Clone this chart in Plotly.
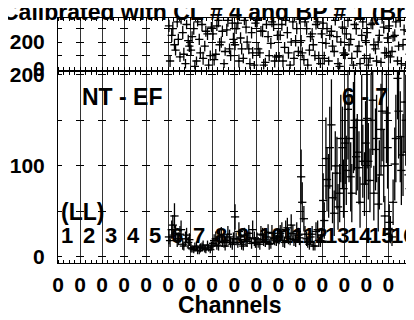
import plotly.graph_objects as go

W, H = 414, 320
CH_PER_MOD = 8

# ---------------- data ----------------
module_labels = [str(k) for k in range(1, 17)]
tick_labels = ["0"] * 16

# bottom panel (NT - EF), modules 6..16, 8 channels each, two readings per channel
bottom_vals_a = [
    22, 30, 45, 18, 25, 14, 20, 16,
    10, 8, 12, 7, 11, 9, 13, 8,
    15, 20, 12, 24, 16, 18, 22, 14,
    44, 16, 22, 12, 19, 26, 15, 20,
    20, 14, 24, 17, 27, 15, 21, 18,
    22, 28, 16, 32, 20, 26, 18, 24,
    88, 42, 20, 14, 25, 12, 30, 18,
    62, 108, 78, 145, 48, 92, 70, 120,
    125, 162, 88, 142, 110, 98, 150, 80,
    152, 84, 172, 118, 58, 140, 100, 158,
    38, 22, 102, 196, 132, 112, 150, 90,
]
bottom_err_a = [
    8, 10, 14, 7, 9, 6, 8, 6,
    5, 4, 5, 4, 5, 4, 5, 4,
    6, 8, 5, 9, 6, 7, 8, 6,
    14, 6, 8, 5, 7, 9, 6, 8,
    7, 6, 8, 6, 9, 6, 7, 6,
    8, 10, 6, 11, 7, 9, 7, 8,
    30, 14, 8, 6, 9, 5, 10, 7,
    30, 45, 35, 50, 25, 40, 32, 45,
    45, 55, 38, 50, 42, 40, 50, 35,
    55, 35, 60, 45, 30, 50, 40, 55,
    20, 10, 40, 45, 50, 45, 50, 38,
]
bottom_vals_b = [
    18, 35, 26, 20, 30, 12, 24, 19,
    9, 11, 7, 10, 13, 8, 10, 12,
    18, 13, 22, 17, 12, 25, 16, 20,
    20, 28, 14, 24, 17, 21, 30, 16,
    16, 25, 19, 22, 14, 26, 20, 23,
    26, 18, 30, 22, 35, 19, 28, 21,
    60, 25, 16, 22, 12, 28, 18, 24,
    40, 85, 120, 65, 100, 55, 130, 75,
    95, 130, 70, 150, 115, 60, 105, 125,
    105, 150, 70, 130, 90, 160, 45, 120,
    30, 60, 130, 160, 95, 170, 115, 75,
]
bottom_err_b = [
    7, 11, 9, 7, 10, 5, 8, 7,
    4, 5, 4, 5, 5, 4, 4, 5,
    7, 5, 8, 6, 5, 9, 6, 7,
    7, 10, 6, 8, 6, 7, 10, 6,
    6, 9, 7, 8, 6, 9, 7, 8,
    9, 7, 10, 8, 12, 7, 10, 8,
    22, 9, 6, 8, 5, 10, 7, 8,
    20, 35, 45, 28, 38, 25, 48, 32,
    38, 48, 32, 55, 42, 28, 40, 46,
    42, 52, 30, 48, 38, 55, 22, 45,
    15, 25, 48, 52, 38, 55, 44, 32,
]

# top panel, modules 6..16, 8 channels each, two readings per channel
top_vals_a = [
    320, 250, 180, 350, 90, 270, 40, 210,
    140, 300, 60, 220, 330, 170, 260, 100,
    260, 110, 360, 200, 40, 290, 150, 340,
    180, 340, 230, 80, 310, 150, 270, 30,
    360, 120, 280, 50, 240, 190, 330, 90,
    90, 330, 160, 270, 30, 350, 210, 130,
    210, 70, 300, 140, 260, 100, 350, 40,
    340, 190, 60, 280, 130, 240, 20, 310,
    110, 360, 220, 30, 300, 170, 250, 80,
    270, 80, 340, 150, 200, 50, 310, 120,
    320, 130, 250, 60, 360, 180, 30, 280,
]
top_vals_b = [
    60, 300, 140, 220, 370, 110, 330, 170,
    240, 20, 350, 120, 80, 280, 30, 310,
    70, 320, 180, 280, 130, 360, 100, 220,
    300, 60, 150, 360, 200, 40, 120, 340,
    150, 280, 30, 330, 100, 350, 60, 250,
    250, 60, 360, 120, 200, 80, 300, 370,
    120, 350, 30, 240, 180, 330, 80, 260,
    80, 300, 250, 170, 360, 40, 200, 120,
    260, 180, 80, 330, 130, 40, 350, 210,
    30, 330, 180, 60, 250, 370, 120, 230,
    90, 240, 350, 170, 40, 290, 220, 110,
]
top_err = [
    45, 50, 40, 42, 38, 48, 35, 44,
    40, 46, 34, 42, 48, 40, 45, 38,
    44, 38, 50, 42, 32, 46, 40, 48,
    40, 48, 42, 36, 46, 40, 44, 30,
    50, 38, 45, 34, 42, 40, 48, 36,
    36, 46, 40, 44, 30, 50, 42, 38,
    42, 36, 46, 40, 44, 38, 50, 32,
    48, 40, 34, 45, 38, 42, 30, 46,
    38, 50, 42, 30, 46, 40, 44, 36,
    44, 36, 48, 40, 42, 34, 46, 38,
    46, 38, 44, 34, 50, 40, 30, 45,
]

first_module = 6
channels_a = [(first_module - 1) * CH_PER_MOD + i + 0.3 for i in range(len(bottom_vals_a))]
channels_b = [(first_module - 1) * CH_PER_MOD + i + 0.7 for i in range(len(bottom_vals_b))]

# ---------------- helpers (layout only) ----------------
OFF = 8  # page body margin offset


def py(px):
    return 1 - (px - OFF) / H


def pxx(px):
    return (px - OFF) / W


x_range = [0, 16 * CH_PER_MOD + 0.2]
tickvals_x = [k * CH_PER_MOD for k in range(16)]
font_b = dict(family="Liberation Sans, Arial, sans-serif", size=21, color="black", weight="bold")
dash = "4px,14px,4px,0px"

fig = go.Figure()

err_style = dict(color="black", thickness=1.3, width=0)


def add_series(xs, ys, errs, xa, ya):
    fig.add_trace(go.Scatter(
        x=xs, y=ys, mode="markers",
        marker=dict(size=2, color="black"),
        error_y=dict(type="data", array=errs, **err_style),
        error_x=dict(type="constant", value=1.5, **err_style),
        xaxis=xa, yaxis=ya, showlegend=False,
    ))


add_series(channels_a, bottom_vals_a, bottom_err_a, "x", "y")
add_series(channels_b, bottom_vals_b, bottom_err_b, "x", "y")
add_series(channels_a, top_vals_a, top_err, "x2", "y2")
add_series(channels_b, top_vals_b, top_err, "x2", "y2")

common_x = dict(
    range=x_range, tickmode="array", tickvals=tickvals_x,
    showgrid=True, gridcolor="#333", gridwidth=1,
    ticks="", showline=True, linecolor="black", linewidth=1, mirror="allticks",
    zeroline=False, domain=[pxx(58), pxx(411)], automargin=False,
    minor=dict(ticks="inside", ticklen=3, dtick=2, tickcolor="black", showgrid=False),
)

fig.update_layout(
    width=W, height=H, autosize=False,
    margin=dict(l=0, r=0, t=0, b=0, pad=0),
    paper_bgcolor="white", plot_bgcolor="white",
    xaxis=dict(**common_x, ticktext=tick_labels, tickfont=font_b, ticklabelstandoff=3, anchor="y"),
    xaxis2=dict(**common_x, showticklabels=False, anchor="y2"),
    yaxis=dict(
        range=[-6.6, 203], domain=[py(263), py(72)], anchor="x", automargin=False,
        tickmode="array", tickvals=[0, 50, 100, 150, 200], ticktext=["0", "", "100", "", "200"],
        showgrid=True, gridcolor="black", gridwidth=1, griddash=dash,
        ticks="", showline=True, linecolor="black", linewidth=1, mirror=True,
        zeroline=False, tickfont=font_b, ticklabelstandoff=8,
    ),
    yaxis2=dict(
        range=[-3, 378], domain=[py(69.5), py(18)], anchor="x2", automargin=False,
        tickmode="array", tickvals=[0, 100, 200, 300], ticktext=["0", "", "200", ""],
        showgrid=True, gridcolor="black", gridwidth=1, griddash=dash,
        ticks="", showline=True, linecolor="black", linewidth=1, mirror=True,
        zeroline=False, tickfont=font_b, ticklabelstandoff=8,
    ),
)

big = dict(family="Liberation Sans, Arial, sans-serif", size=23, color="black", weight="bold")
ann = []
ann.append(dict(text="Calibrated with CL # 4 and BP # 1 (Br", xref="paper", yref="paper",
                x=pxx(0), y=py(12), xanchor="left", yanchor="middle", showarrow=False, font=big))
ann.append(dict(text="Channels", xref="paper", yref="paper", x=pxx(230), y=py(305),
                xanchor="center", yanchor="middle", showarrow=False, font=big))
ann.append(dict(text="NT - EF", xref="x", yref="y", x=23.3, y=176,
                xanchor="center", yanchor="middle", showarrow=False, font=big))
ann.append(dict(text="6 - 7", xref="x", yref="y", x=111.6, y=176,
                xanchor="center", yanchor="middle", showarrow=False, font=big))
ann.append(dict(text="(LL)", xref="x", yref="y", x=0.2, y=49.5,
                xanchor="left", yanchor="middle", showarrow=False, font=big))
for k, lab in enumerate(module_labels):
    ann.append(dict(text=lab, xref="x", yref="y", x=k * CH_PER_MOD + 0.3, y=24,
                    xanchor="left", yanchor="middle", showarrow=False,
                    font=dict(family="Liberation Sans, Arial, sans-serif", size=22,
                              color="black", weight="bold")))
fig.update_layout(annotations=ann)

fig.write_html("out.html")
